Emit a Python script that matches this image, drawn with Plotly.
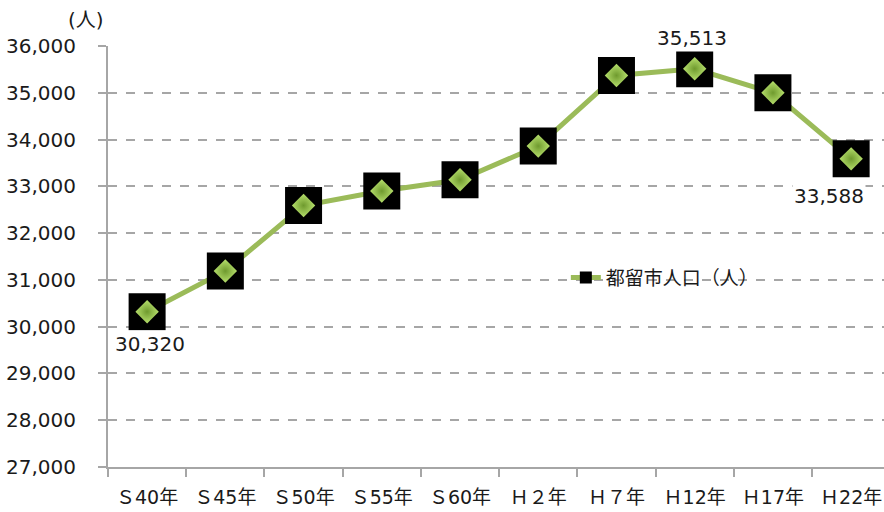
import plotly.graph_objects as go

categories = ["Ｓ40年", "Ｓ45年", "Ｓ50年", "Ｓ55年", "Ｓ60年",
              "Ｈ２年", "Ｈ７年", "Ｈ12年", "Ｈ17年", "Ｈ22年"]
population = [30320, 31190, 32590, 32900, 33140, 33860, 35370, 35513, 35000, 33588]
series_name = "都留市人口（人）"

# points that carry a value label
label_idx = [0, 7, 9]

FONT = "DejaVu Sans, Noto Sans CJK JP, sans-serif"
CJK = "Noto Sans CJK JP, sans-serif"
TXT = "#1a1a1a"
GRID = "#a6a6a6"

fig = go.Figure()

fig.add_trace(go.Scatter(
    x=categories,
    y=population,
    mode="lines+markers",
    name=series_name,
    line=dict(color="#9bbb59", width=5),
    marker=dict(symbol="square", size=37, color="#000000", line=dict(width=0)),
))
fig.add_trace(go.Scatter(
    x=categories,
    y=population,
    mode="markers",
    showlegend=False,
    hoverinfo="skip",
    marker=dict(symbol="diamond", size=18, color="#b6df6c",
                gradient=dict(type="radial", color="#6f9a2e"),
                line=dict(width=0)),
))

shifts = {0: (3, -32), 7: (-3, 31), 9: (-22, -37)}
for i in label_idx:
    dx, dy = shifts[i]
    fig.add_annotation(
        x=categories[i], y=population[i],
        text=f"{population[i]:,}",
        showarrow=False, xshift=dx, yshift=dy,
        bgcolor="white", borderpad=1,
        font=dict(family=FONT, size=20, color=TXT),
    )

fig.add_annotation(
    xref="paper", yref="paper", x=-0.028, y=1.062,
    xanchor="center", yanchor="middle",
    text="(人)", showarrow=False,
    font=dict(family=FONT, size=20, color=TXT),
)

fig.update_xaxes(
    type="category",
    range=[-0.5, 9.42],
    showline=True, linecolor=GRID, linewidth=2,
    ticks="outside", tickson="boundaries", ticklen=8, tickcolor=GRID, tickwidth=2,
    showgrid=False,
    tickfont=dict(family=FONT, size=19, color=TXT),
    ticklabelstandoff=12,
)
fig.update_yaxes(
    range=[27000, 36000],
    dtick=1000,
    tickformat=",",
    showline=True, linecolor=GRID, linewidth=2,
    ticks="outside", ticklen=8, tickcolor=GRID, tickwidth=2,
    showgrid=True, gridcolor=GRID, gridwidth=1.5, griddash="dash",
    zeroline=False,
    tickfont=dict(family=FONT, size=20, color=TXT),
    ticklabelstandoff=18,
)

fig.update_layout(
    width=884, height=512,
    margin=dict(l=108, r=0, t=46, b=45),
    paper_bgcolor="white",
    plot_bgcolor="white",
    font=dict(family=FONT, color=TXT),
    legend=dict(
        x=0.59, y=0.45, xanchor="left", yanchor="middle",
        bgcolor="rgba(0,0,0,0)",
        font=dict(family=CJK, size=19, color=TXT),
        itemsizing="constant",
    ),
)

fig.write_html(
    "out.html",
    config={"displayModeBar": False},
    post_script="document.body.style.margin='0';document.body.style.overflow='hidden';",
)
